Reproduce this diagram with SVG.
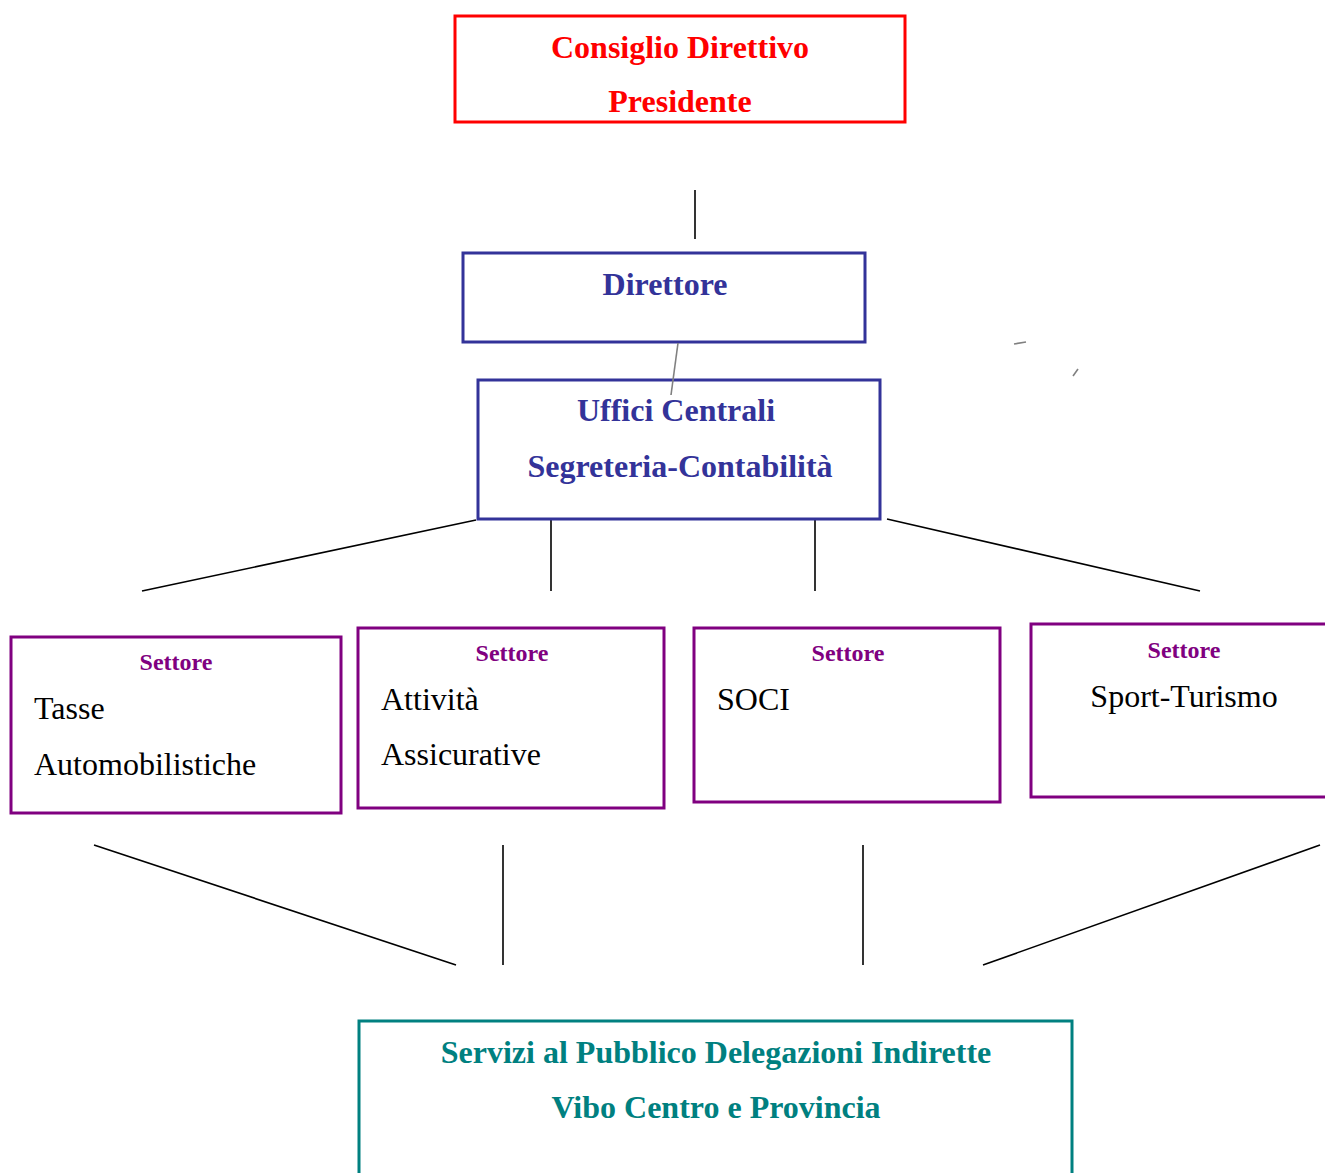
<svg xmlns="http://www.w3.org/2000/svg" width="1325" height="1173" viewBox="0 0 1325 1173">
<style>
.t{font-family:"Liberation Serif","Times New Roman",serif;}
.b{font-weight:bold;}
.red{fill:#ff0000;}
.blue{fill:#333399;}
.pur{fill:#800080;}
.teal{fill:#008080;}
.big{font-size:32px;}
.sm{font-size:24px;}
.box{fill:#ffffff;stroke-width:3;}
.conn line{stroke:#000000;stroke-width:1.6;}
</style>
<rect width="1325" height="1173" fill="#ffffff"/>
<g id="connectors" class="conn">
<line x1="695" y1="190" x2="695" y2="239"/>
<line x1="476" y1="520" x2="142" y2="591"/>
<line x1="551" y1="520" x2="551" y2="591"/>
<line x1="815" y1="520" x2="815" y2="591"/>
<line x1="887" y1="519" x2="1200" y2="591"/>
<line x1="94" y1="845" x2="456" y2="965"/>
<line x1="503" y1="845" x2="503" y2="965"/>
<line x1="863" y1="845" x2="863" y2="965"/>
<line x1="1320" y1="845" x2="983" y2="965"/>
</g>
<g id="consiglio">
<rect class="box" x="455" y="16" width="450" height="106" stroke="#ff0000"/>
<text class="t b big red" x="680" y="58" text-anchor="middle">Consiglio Direttivo</text>
<text class="t b big red" x="680" y="112" text-anchor="middle">Presidente</text>
</g>
<g id="direttore">
<rect class="box" x="463" y="253" width="402" height="89" stroke="#333399"/>
<text class="t b big blue" x="665" y="295" text-anchor="middle">Direttore</text>
</g>
<g id="uffici">
<rect class="box" x="478" y="380" width="402" height="139" stroke="#333399"/>
<text class="t b big blue" x="676" y="421" text-anchor="middle">Uffici Centrali</text>
<text class="t b big blue" x="680" y="477" text-anchor="middle">Segreteria-Contabilità</text>
</g>
<g id="marks" stroke="#808080" stroke-width="1.6">
<line x1="678" y1="343" x2="671" y2="395"/>
<line x1="1014" y1="344" x2="1026" y2="342"/>
<line x1="1073" y1="376" x2="1078" y2="369"/>
</g>
<g id="settore-tasse">
<rect class="box" x="11" y="637" width="330" height="176" stroke="#800080"/>
<text class="t b sm pur" x="176" y="670" text-anchor="middle">Settore</text>
<text class="t big" x="34" y="719">Tasse</text>
<text class="t big" x="34" y="775">Automobilistiche</text>
</g>
<g id="settore-attivita">
<rect class="box" x="358" y="628" width="306" height="180" stroke="#800080"/>
<text class="t b sm pur" x="512" y="661" text-anchor="middle">Settore</text>
<text class="t big" x="381" y="710">Attività</text>
<text class="t big" x="381" y="765">Assicurative</text>
</g>
<g id="settore-soci">
<rect class="box" x="694" y="628" width="306" height="174" stroke="#800080"/>
<text class="t b sm pur" x="848" y="661" text-anchor="middle">Settore</text>
<text class="t big" x="717" y="710">SOCI</text>
</g>
<g id="settore-sport">
<rect class="box" x="1031" y="624" width="310" height="173" stroke="#800080"/>
<text class="t b sm pur" x="1184" y="658" text-anchor="middle">Settore</text>
<text class="t big" x="1184" y="707" text-anchor="middle">Sport-Turismo</text>
</g>
<g id="servizi">
<rect class="box" x="359" y="1021" width="713" height="170" stroke="#008080"/>
<text class="t b big teal" x="716" y="1063" text-anchor="middle">Servizi al Pubblico Delegazioni Indirette</text>
<text class="t b big teal" x="716" y="1118" text-anchor="middle">Vibo Centro e Provincia</text>
</g>
</svg>
